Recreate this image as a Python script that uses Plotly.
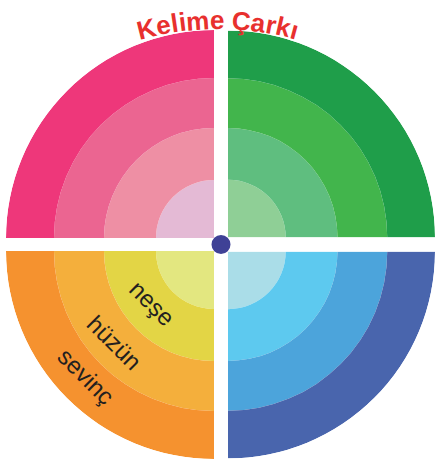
import math
import plotly.graph_objects as go

# ---------------- data ----------------
quadrant_names = ["pembe", "yeşil", "turuncu", "mavi"]
quadrant_theta = [135, 45, 225, 315]          # centre angle of each quarter
ring_edges = [0, 58, 110, 160, 208]           # ring boundaries (inner -> outer)
pink_colors = ["#E4BAD5", "#EE8FA4", "#EB6591", "#EE377A"]
green_colors = ["#8FCF96", "#5FBE7F", "#42B54C", "#1F9E4A"]
orange_colors = ["#E3E780", "#E3D545", "#F4AF3C", "#F5922F"]
blue_colors = ["#AADDE8", "#5DC9EF", "#4CA4DB", "#4965AD"]
quadrant_colors = [pink_colors, green_colors, orange_colors, blue_colors]

words = ["neşe", "hüzün", "sevinç"]
word_ring = [1, 2, 3]                 # ring index each word sits in
word_radius = [81, 135, 179]          # radial position inside its ring
word_angle = [40.5, 42.5, 44.5]       # degrees below the horizontal (towards lower-left)

title_text = "Kelime Çarkı"

# ---------------- layout geometry (pixels) ----------------
W, H = 435, 460
# quadrant boxes: (x0, x1, y0_top, y1_bottom)
boxes = [(6, 214, 30, 238), (228, 435, 30, 238), (6, 214, 251, 459), (228, 435, 251, 459)]
sectors = [[90, 180], [0, 90], [180, 270], [270, 360]]

fig = go.Figure()
layout_polars = {}
for qi in range(4):
    key = "polar" if qi == 0 else f"polar{qi+1}"
    x0, x1, y0, y1 = boxes[qi]
    layout_polars[key] = dict(
        domain=dict(x=[x0 / W, x1 / W], y=[1 - y1 / H, 1 - y0 / H]),
        sector=sectors[qi],
        hole=0,
        bgcolor="rgba(0,0,0,0)",
        bargap=0,
        radialaxis=dict(visible=False, range=[0, ring_edges[-1]], showgrid=False),
        angularaxis=dict(visible=False, showgrid=False, showline=False),
    )
    for ri in range(4):
        fig.add_trace(go.Barpolar(
            r=[ring_edges[ri + 1] - ring_edges[ri]],
            base=[ring_edges[ri]],
            theta=[quadrant_theta[qi]],
            width=[90],
            marker=dict(color=quadrant_colors[qi][ri], line=dict(width=0)),
            subplot=key,
            name=f"{quadrant_names[qi]} {ri+1}",
            showlegend=False,
            hoverinfo="skip",
        ))

annotations = []

# words in the lower-left quarter (polar centre of that quarter = its top-right corner)
bl_cx, bl_cy = boxes[2][1], boxes[2][2]
for w, rr, ang in zip(words, word_radius, word_angle):
    a = math.radians(ang)
    px = bl_cx - rr * math.cos(a)
    py = bl_cy + rr * math.sin(a)
    annotations.append(dict(
        x=px / W, y=1 - py / H, xref="paper", yref="paper",
        text=w, showarrow=False, textangle=45,
        xanchor="center", yanchor="middle",
        font=dict(family="Liberation Sans, Arial", size=24, color="#231F20"),
    ))

# curved title, one character at a time
char_w = {"K": 722, "e": 556, "l": 278, "i": 278, "m": 889, " ": 278,
          "Ç": 722, "a": 556, "r": 389, "k": 556, "ı": 278}
fs = 26
spacing = 0.5
widths = [char_w.get(c, 556) * fs / 1000 + spacing for c in title_text]
total = sum(widths)
arc_cx, arc_top, arc_R = 218, 20, 295
arc_cy = arc_top + arc_R
s = -total / 2
for c, wd in zip(title_text, widths):
    mid = s + wd / 2
    s += wd
    if c == " ":
        continue
    th = mid / arc_R
    px = arc_cx + arc_R * math.sin(th)
    py = arc_cy - arc_R * math.cos(th)
    annotations.append(dict(
        x=px / W, y=1 - py / H, xref="paper", yref="paper",
        text=f"<b>{c}</b>", showarrow=False, textangle=math.degrees(th),
        xanchor="center", yanchor="middle",
        font=dict(family="Liberation Sans, Arial", size=fs, color="#E8302E"),
    ))

# centre dot
dot_x, dot_y, dot_r = 221, 244.5, 9.5
shapes = [dict(type="circle", xref="paper", yref="paper",
               x0=(dot_x - dot_r) / W, x1=(dot_x + dot_r) / W,
               y0=1 - (dot_y + dot_r) / H, y1=1 - (dot_y - dot_r) / H,
               fillcolor="#3F4196", line=dict(width=0))]

fig.update_layout(
    width=W, height=H,
    margin=dict(l=0, r=0, t=0, b=0),
    paper_bgcolor="white", plot_bgcolor="white",
    annotations=annotations, shapes=shapes,
    showlegend=False,
    **layout_polars,
)

fig.write_html(
    "out.html",
    config={"displayModeBar": False},
    post_script="document.body.style.margin='0px';document.body.style.overflow='hidden';",
)
